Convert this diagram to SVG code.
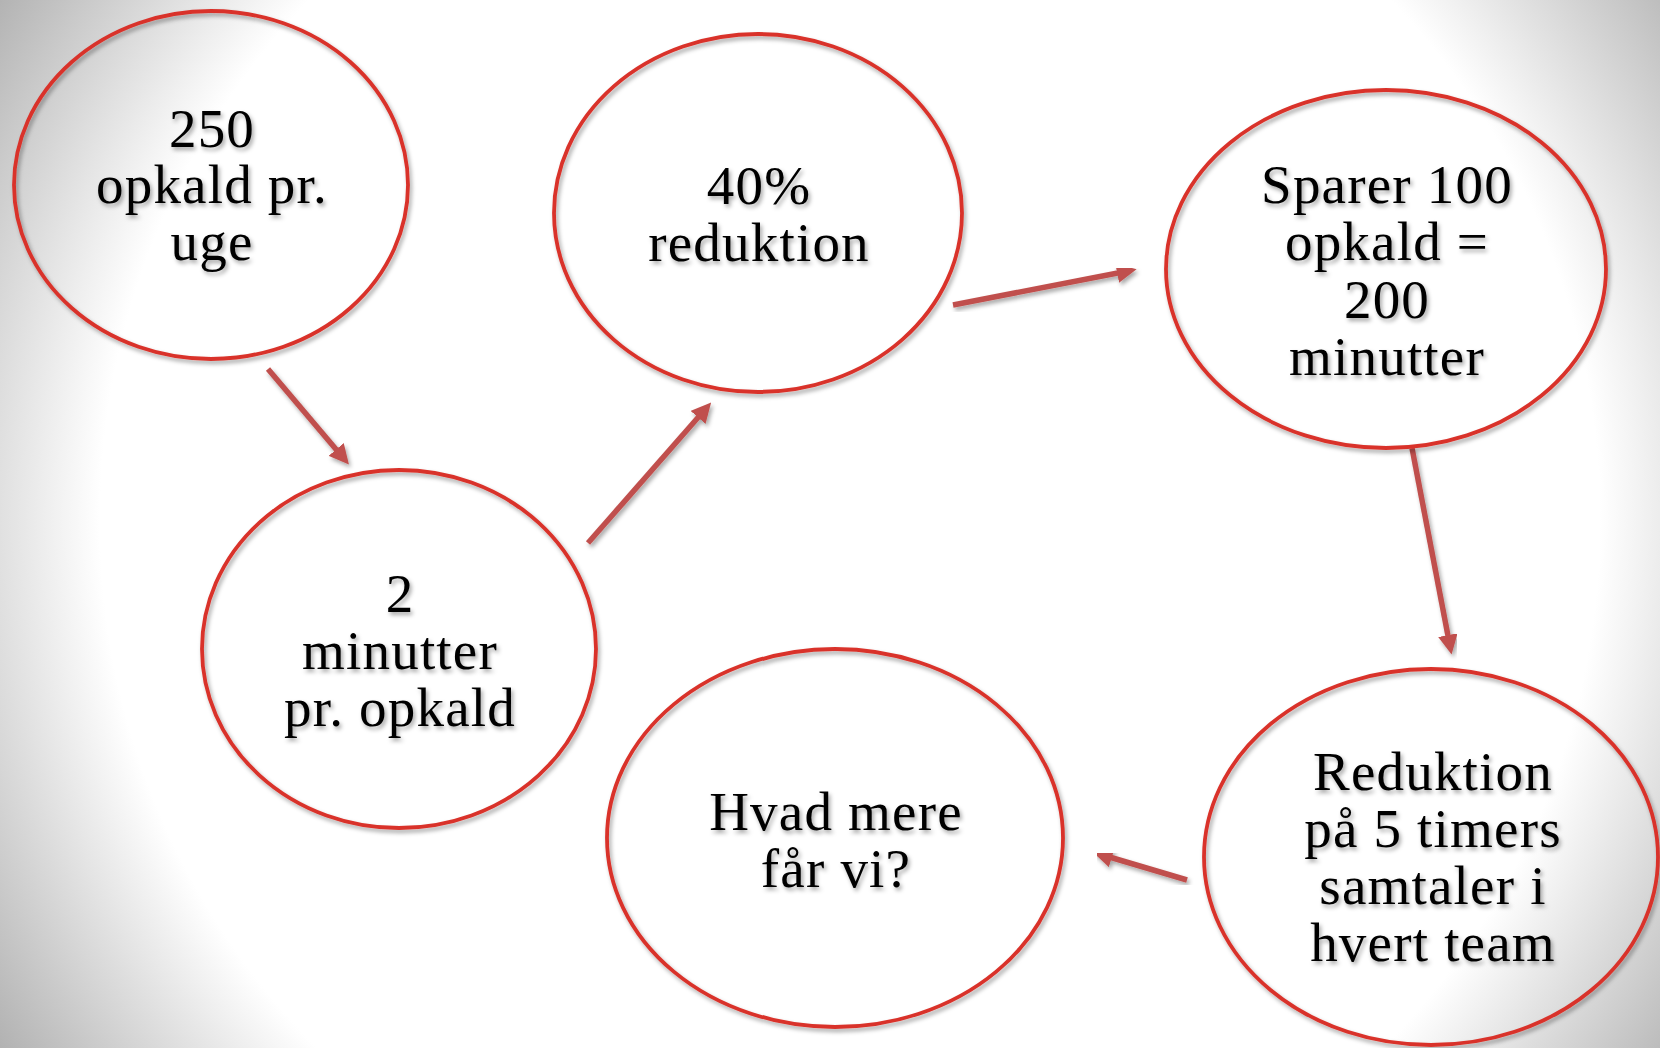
<svg xmlns="http://www.w3.org/2000/svg" width="1660" height="1048" viewBox="0 0 1660 1048">
<defs>
<radialGradient id="bg" gradientUnits="userSpaceOnUse" cx="850" cy="520" r="1000">
<stop offset="0" stop-color="#ffffff"/>
<stop offset="0.75" stop-color="#ffffff"/>
<stop offset="1" stop-color="#b2b2b2"/>
</radialGradient>
<filter id="sh" x="-10%" y="-10%" width="130%" height="130%">
<feDropShadow dx="2" dy="3" stdDeviation="2" flood-color="#000" flood-opacity="0.35"/>
</filter>
<marker id="ah" viewBox="0 0 10 10" refX="3" refY="5" markerWidth="3.6" markerHeight="3.6" orient="auto" markerUnits="strokeWidth">
<path d="M0,0 L10,5 L0,10 z" fill="#c0504d"/>
</marker>
<style>
.n{fill:none;stroke:#d9332b;stroke-width:3.8;filter:url(#sh)}
.t{font-family:"Liberation Serif","Times New Roman",serif;font-size:55px;letter-spacing:1.2px;fill:#000;text-anchor:middle;filter:url(#sh)}
.c{stroke:#c0504d;stroke-width:5.5;fill:none;marker-end:url(#ah);filter:url(#sh)}
</style>
</defs>
<rect width="1660" height="1048" fill="url(#bg)"/>
<g id="connectors">
<line class="c" x1="268" y1="369" x2="340" y2="454"/>
<line class="c" x1="588" y1="543" x2="702" y2="413"/>
<line class="c" x1="953" y1="305" x2="1123" y2="272"/>
<line class="c" x1="1412" y1="448" x2="1449" y2="641"/>
<line class="c" x1="1187" y1="880" x2="1106" y2="856"/>
</g>
<g id="node1">
<ellipse class="n" cx="211" cy="185" rx="197" ry="174"/>
<text class="t" x="212" y="147">250</text>
<text class="t" x="212" y="203">opkald pr.</text>
<text class="t" x="212" y="260">uge</text>
</g>
<g id="node2">
<ellipse class="n" cx="399" cy="649" rx="197" ry="179"/>
<text class="t" x="400" y="612">2</text>
<text class="t" x="400" y="669">minutter</text>
<text class="t" x="400" y="726">pr. opkald</text>
</g>
<g id="node3">
<ellipse class="n" cx="758" cy="213" rx="204" ry="179"/>
<text class="t" x="759" y="204">40%</text>
<text class="t" x="759" y="261">reduktion</text>
</g>
<g id="node4">
<ellipse class="n" cx="1386" cy="269" rx="220" ry="179"/>
<text class="t" x="1387" y="203">Sparer 100</text>
<text class="t" x="1387" y="260">opkald =</text>
<text class="t" x="1387" y="318">200</text>
<text class="t" x="1387" y="375">minutter</text>
</g>
<g id="node5">
<ellipse class="n" cx="1431" cy="857" rx="227" ry="188"/>
<text class="t" x="1433" y="790">Reduktion</text>
<text class="t" x="1433" y="847">på 5 timers</text>
<text class="t" x="1433" y="904">samtaler i</text>
<text class="t" x="1433" y="961">hvert team</text>
</g>
<g id="node6">
<ellipse class="n" cx="835" cy="838" rx="228" ry="189"/>
<text class="t" x="836" y="830">Hvad mere</text>
<text class="t" x="836" y="887">får vi?</text>
</g>
</svg>
